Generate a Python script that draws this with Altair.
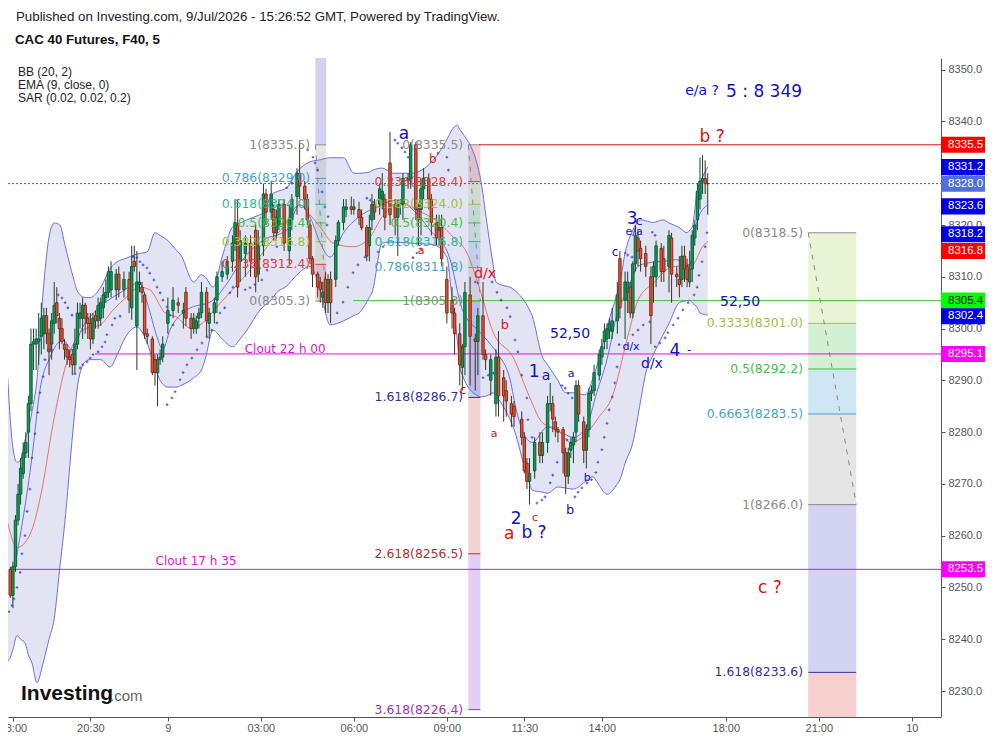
import altair as alt
import pandas as pd

PRICE_BASE = 8000
Y_DOMAIN = [8224.98, 8352.26]
X_DOMAIN = [-0.89, 360.3]

tick_pos = [1, 31, 61, 97, 133, 169, 199, 229, 277, 313, 349]
tick_text = ["18:00", "20:30", "9", "03:00", "06:00", "09:00", "11:30", "14:00", "18:00", "21:00", "10"]
price_ticks = [8230, 8240, 8250, 8260, 8270, 8280, 8290, 8300, 8310, 8320, 8330, 8340, 8350]

bar_i = [0,1,2,3,4,5,6,7,8,9,10,11,12,13,14,15,16,17,18,19,
20,21,22,23,24,25,26,27,28,29,30,31,32,33,34,35,36,37,38,39,
41,42,44,46,47,48,49,50,51,52,53,55,56,57,58,59,
61,63,65,67,68,70,71,72,73,74,76,77,79,80,82,84,86,87,88,89,
91,93,95,96,98,99,101,102,103,104,106,108,109,111,112,114,115,116,117,119,
120,121,122,123,124,126,127,129,130,132,133,135,136,138,139,140,141,143,144,145,
147,149,150,151,152,154,155,157,158,159,160,162,163,165,166,167,169,171,172,174,
175,176,178,180,181,183,184,186,188,189,191,192,194,195,198,199,200,201,203,205,
206,208,209,210,211,212,214,215,216,217,218,219,220,222,223,224,225,226,228,229,
230,231,232,233,235,236,238,239,240,241,242,243,244,246,248,249,250,252,253,255,
256,258,259,260,261,262,263,264,265,266,267,268,269,270]
bar_open = [253.5,248.5,254,263,268,272,276,280,285.5,297,297,297.5,298.5,299,302.5,299,297,301,305,302,
300,297,296,294.5,295,293,297,302,302,304.5,302,301,298,302.5,301.5,302,304,306,307,307.5,
307.5,310.5,307.5,309.5,304,313,300.5,308.5,308,306.5,299,298,294,291.5,294,294.5,
301,303.5,305,303,307,302,300,300,302,303,307,301,303,305.5,310,310.5,313,316.5,320,313,
314.5,316.5,319,310.5,316,326,322.5,323,318.5,320,324,315,321,325.5,330,327.5,325,320,313.5,310.5,
309,306,309.5,305,309.5,309.5,317,320.5,323,323.5,323,323,321.5,319.5,316,321,324,324,325,325,
332,324,321.5,324,324,328.5,329,335.5,323,323,327,329,325,320.5,319,319.5,309.5,305.5,303,299,
292.5,296.5,306.5,298,297.5,302.5,295,290,285.5,294.5,290.5,288,285.5,285,282.5,279,274,270.5,272.5,278,
275.5,278,285.5,285.5,282,280.5,280.5,276,271.5,276.5,277.5,280,289,282,276.5,280.5,287.5,288,291,294.5,
297.5,298,299.5,299.5,301.5,313.5,305.5,307,308,303,312.5,317.5,315.5,314.5,310,310,310,315.5,313.5,312,
317.5,310.5,309.5,309.5,314,312,309,311.5,317.5,321,325,328.5,329,328]
bar_close = [248.5,254,263,268,273,276,278,285.5,297,297.5,298,298,302,302.5,299,295.5,301.5,304.5,302.5,300,
297.5,296,294.5,294,293,297,303,303,304.5,302,301,298,302,301.5,304.5,305,306.5,307,311,311,
310.5,307.5,309.5,305.5,312,312,309,309,307,299,298.5,291.5,291.5,294,294.5,297,
303.5,305.5,304.5,303.5,302,300,302,301.5,303,307,301.5,303,305,310,311,313,316.5,320.5,308,317,
316.5,313,310,316,326,322.5,326,318.5,321.5,324,316.5,321,325,330,327.5,325,321,313.5,310.5,308,
307.5,307,305,309.5,305,317,320.5,323.5,323.5,323,323.5,321.5,319.5,314,319.5,324,322.5,327,326.5,321.5,
322,321.5,324,324,329,329,335.5,323,321,327,329,325,320.5,317.5,319.5,313.5,303,303,299,293,
296.5,307,298.5,297.5,302.5,295,294,294,294.5,287,287,286,283.5,283,279,272.5,270.5,272,278,275.5,
278,285.5,285.5,282.5,280.5,280,276,271.5,276,278,279,289,283.5,276.5,280.5,287.5,288,291.5,295,296.5,
299.5,300,301,301.5,306.5,304,309,309,303,312.5,318,315,313.5,312,302.5,312,316,311,311,318,
310.5,310,308.5,314,311.5,309.5,311.5,318,320,326.5,328.5,329,328,328]
bar_high = [254,255,264,270,275,278,280,287,300,300,300,303,305,304,304,300,303,309,308,303,
302,298,297,296,296,300,305,305,306,305,303,303,303,303.5,306,306,308,309.5,312,313,
311.5,312,311,311,316,316,315,311,309,307,300,298.5,295,295,296,298.5,
306,308,306,305,308,303,303,302.5,304,309,308,304,306,311,313,314,318,325,325,319,
318,318,320,319,328,327,328.5,324,323,325,325,324,326,331,336,328.5,326,321,314,311,
310,309,311,310.5,311,318,321,325,325,325.5,325,324.5,323,320,322,326,325,328,330,326,
338,325,325,325,330,330,336,336,324,329,331,330,326,322,322,322,312,308,304,301,
297,309,310,299,304,309,296,295,296,299.5,292,290,287,286,284,280,275,275,279,280,
280,287,289.5,287,283,281,281,277,277,279,280,290,290,283,281.5,288.5,289,293,296,298,
301,301,302,304,309,315,311,311,309,313,320,319,317,316,312,313,317,316.5,316,319,
318.5,312,314,316,316,313.5,315,319,321,328,333,333.5,332.5,330]
bar_low = [248,246,253,262,266,271,275,275,284,292,292,293,295,296,297,291,294,299,301,296,
297,294,293,292.5,291,291.5,296,300,298,299,298,296,297,300,300,300.5,302,305,306,306,
305.5,306,306,303,301.7,311,292,307,305,298,297,291,289,285,293,293.5,
299,302,303,300,300.5,298,299,299,300,302,298.5,298,301,303,309,309.5,311,315,306,309,
310,310,307,309,314,320,321,317,317,319,315,312.5,319,322,325,323,320,312.5,308,306,
305,304,303,303,301,308,316,319,321.5,322,322,320,319,313,313,319,321,322,323,319,
320,318,314,322,321,327,327,321,316,318,325,323,318,316,316,312,301,300,295,289,
288,291,289,288,291,294,292,287,283,283,282,283,281,281,277.5,272,269,266,271,274,
274,276,284,280,279,278,272,268,270,275,274,278,282,274,273,279,286,287,290,293,
296,296,298,298,299,302,298,303,302,302,311,312,311,310,297,305,308,309,309,307,
305,308,306,308,309,308,308,309,316,319,323,326,326,322]

band_i = [-1,0,1,2.6,4,5.7,7,8.4,10.3,12.7,15,17,19.2,21,24.3,26.2,29,31,35,38.6,41.7,44.4,49,53,56,58,61,64.5,66,71,
74,75.4,78.5,82,86,89,91.6,96.7,98,101,103,107,111,116,120,123.8,129,133,135,139,140,144,148,155,163.7,169,171,173,174,175,
181,182,184.5,187,188,195,201,202,206,208,212,215,218,222.5,225.6,227,231,235,236,238,241,244,246,249,252.7,255,259,262,263,264,266,267,268,270]
band_upper = [290.5,282.4,277,274.2,274.6,278.5,280.5,284,290,307,317.7,320.4,320,316.5,310,307,306,306,308,311.5,313,313.5,314.4,314.8,318.5,318,317,315,314.2,309,
310.4,310,308,313.8,319.6,320.4,321,322,322.3,325.8,326.4,327.2,330.3,332.2,332.6,333,333,330,330,330.2,330.5,331,330,330,332.5,336.5,338.4,339.3,338.5,337.8,
331.2,329,320.4,312,309,307.5,303.6,302.5,294.5,293,290,287.6,287.6,287.2,290.5,292.6,300.3,306.9,308.8,314.6,319,321,320.8,320.5,321,320.4,319.5,318.5,319,319.6,326.8,328,329.3,331.2]
band_lower = [235.7,236.5,238,240.7,240,239.3,237,235.4,231.6,235.4,240,244,254,262,280.5,289.5,293.6,294,294,292.6,295.3,298.2,300.3,297.2,292.5,290,288.7,288.7,289,290.5,
292,294,299.7,298,296.5,298,299.7,303.6,304.3,305.5,306.9,308.2,310.4,312,307.5,300.7,301.5,302.5,303,306,306.9,316.5,316.7,316.5,316.2,313.8,306,298,292.6,291,
287,286.8,287,287.6,287,280.5,270,268.8,268.4,268.2,269.4,269.2,269,270.4,271.4,270.5,268,270,270.8,274,278,286,291.4,295,298.8,301,305,305.4,305.5,305,304,303,302.8,302.6]

basis_i = [2,8.4,11.5,15.4,20.4,23.9,28,34.7,42.5,50,53,56.8,59,61.8,68.4,78.5,84,89,98,107,112,116,120,123.8,129,135,142,149.7,156,162.5,170,175,181,184.5,188.4,193.5,196,202,208,213,218,223,227,231,235,239,243,247,253,258,263,266,270]
basis_p = [254.7,275.2,288.2,294.5,297.8,295.9,300.3,304.2,306.9,308.8,305,298.4,295.9,299.7,303.6,305.5,308.8,312.7,317.1,319,323.9,321.6,316.5,313.8,318.5,321.6,323.5,324.8,322.9,319,313.8,303.6,299.7,297.8,295.3,290.1,284,278,281,280,279,281,287.6,294,303,307.5,312,312.7,313,313.3,312.3,321,323.9]

ema_i = [-1,2.6,7.6,12,16.5,21,25.8,29.7,34.7,39.8,45,50,54,60,64.5,69.6,73.4,80,86,92.8,99.4,105.6,112,116,120,125,132.7,139,144,150.9,157.5,166,171.4,176.8,181.8,186.9,194.6,201,206,211.7,217,221.7,228,233,239,243,249,256,264,268,270]
ema_p = [262.5,257.7,260.2,268.3,281.4,292,298.4,300.1,300.7,303.6,306.1,308,307.5,303,302.2,300.1,300.7,304.2,307.5,311.3,315.8,319.6,323.9,322,319.6,316.5,315.8,317.5,321.6,324.3,322.9,320.4,317.7,314.6,307.5,299.3,294.5,286.8,281.8,280.5,278,279.1,283,286.8,298.4,305.5,308.8,311.9,312.3,315.8,316.8]

sar_i = [-0.5,0.7,1.4,2.6,3.8,4.5,5.7,6.5,7.6,8.4,9.6,10.7,11.5,12.7,13.4,14.6,16.1,18.5,20,21.2,22.3,23.9,25,27,28.1,29.7,30.9,32,34,35.5,36.7,37.4,39.4,40.5,42.5,
47.5,49,50.2,51.4,52.9,54,55.6,56.8,58,59.1,60.7,61.8,63,60.7,62.6,63.8,65.7,66.9,68.4,70.3,72.3,74.2,76.1,78,80,81.2,83,85,86.2,
90.9,92.8,94.7,97.4,99.4,101.3,103.2,107,109,111.4,115.2,117.2,118,119,120.7,121.8,123,122.6,126.5,128.8,130.7,132.7,134.6,137.3,142.4,144.3,138,139.3,140.4,
148.9,150,151.6,152.8,154,155.9,157.4,159,165.6,169,169.6,180,181,186.5,188.4,190,192.3,193.5,195.4,196.5,198,200,200.4,202,183,185,187,
203.9,205.8,207,209,210,211.7,215.5,213.6,214.8,216,217.5,218.6,219.8,221.3,223.3,225,226.7,227.5,229,229.9,231,231.8,233,234,234.9,235.7,
241,243,245,247.6,238,239,240.7,248.5,249.6,249.6,251.5,253.5,254.6,256.6,258.5,260.4,262.4,264.7,265.9,266.6,267.8,269,269.7]
sar_p = [245.3,246.5,247.8,250,252.9,256.5,260,264.7,269,275,279.7,283.8,287.6,290.7,294,295.9,295.9,306.5,305.9,305,304,302.6,291.3,292.4,293,293.6,294.3,295,295.5,296.5,297.4,298.8,300.7,302,302.4,
313.9,313.7,312.9,312.3,311.7,310.7,309.4,308,306.9,305.5,304.2,302.6,300.7,285.3,286.6,287.8,290.1,291.5,293,294.3,295.9,297.2,298.4,299.7,301.1,303,304,306.9,308,
307.5,307.9,308.5,309.4,311.3,313.3,315.8,327.2,328.1,329,334.5,333.1,332,330.6,326.4,323.5,321.6,320,303,305.1,308,310.8,312.3,313.8,314.8,315.8,325.2,324.8,324.4,
336.4,335.8,334.9,334.1,333.1,313.7,314.6,315.4,333.9,333.1,330.6,309,308.8,309,307,305.5,304,302.3,297.8,295.5,291,286.6,282.4,279,290.5,291,291.4,
266.3,266.9,267.5,270.2,271.7,274.2,278.5,289,288.5,287.5,286.6,267.5,268.4,269.2,270.2,270.8,272.2,274.2,276.6,279,281.7,284.3,286.8,289.5,292.6,296.9,
298.8,299.7,300.7,301.3,314.6,314.2,313.8,318.6,318,296.5,297.2,298.2,299.2,300.7,302,303.6,305,306.5,308,310.3,312.9,315.8,318.5]

fib1_span = [118.1, 122.3]
fib1_levels = [8352.26, 8335.5, 8329.0, 8324.0, 8320.4, 8316.8, 8312.4, 8305.3]
fib1_fills = ["#d1d3f3", "#e6e6e6", "#d2e6f3", "#d5efe3", "#d6f0d6", "#eaf3d7", "#f5d2d2"]
fib1_tags = ["1(8335.5)", "0.786(8329.0)", "0.618(8324.0)", "0.5(8320.4)", "0.382(8316.8)", "0.236(8312.4)", "0(8305.3)"]
fib1_inks = ["#8a8a8a", "#4a9fd0", "#30b890", "#3fbf3f", "#a3c040", "#e04040", "#8a8a8a"]
fib1_trend = [8335.5, 8305.3]

fib2_span = [177.3, 182]
fib2_levels = [8335.5, 8328.4, 8324.0, 8320.4, 8316.8, 8311.8, 8305.3, 8286.7, 8256.5, 8226.4]
fib2_fills = ["#f5d2d2", "#eaf3d7", "#d6f0d6", "#d5efe3", "#d2e6f3", "#e6e6e6", "#c9ccef", "#f5d2d2", "#e3cff5"]
fib2_tags = ["0(8335.5)", "0.236(8328.4)", "0.382(8324.0)", "0.5(8320.4)", "0.618(8316.8)", "0.786(8311.8)", "1(8305.3)", "1.618(8286.7)", "2.618(8256.5)", "3.618(8226.4)"]
fib2_inks = ["#8a8a8a", "#e04040", "#a3c040", "#3fbf3f", "#30b890", "#4a9fd0", "#8a8a8a", "#3030a0", "#b03030", "#a030c0"]
fib2_trend = [8335.5, 8305.3]

fib3_span = [308.9, 327.5]
fib3_levels = [8318.5, 8301.0, 8292.2, 8283.5, 8266.0, 8233.6, 8224.98]
fib3_fills = ["#e9f4d6", "#d4f0d4", "#cfe6f4", "#e5e5e5", "#d3d3f3", "#f6cfcf"]
fib3_tags = ["0(8318.5)", "0.3333(8301.0)", "0.5(8292.2)", "0.6663(8283.5)", "1(8266.0)", "1.618(8233.6)"]
fib3_inks = ["#8a8a8a", "#a3c040", "#3fbf3f", "#4a9fd0", "#8a8a8a", "#3030a0"]
fib3_trend = [8318.5, 8266.0]

hline_price = [8335.5, 8328.0, 8305.4, 8295.1, 8253.5]
hline_from = [181.5, -0.89, 132.7, 32.8, 0]
hline_color = ["#e01010", "#3a5bb0", "#33cc33", "#e010d0", "#e010d0"]
hline_dash = [0, 1, 0, 0, 0]

tag_price = ["8335.5", "8331.2", "8328.0", "8323.6", "8318.2", "8316.8", "8305.4", "8302.4", "8295.1", "8253.5"]
tag_level = [8335.5, 8331.2, 8328.0, 8323.6, 8318.2, 8315.0, 8305.4, 8302.4, 8295.1, 8253.5]
tag_fill = ["#ff0000", "#0000e6", "#4f6fdf", "#0000e6", "#0000e6", "#ff0000", "#00ff00", "#0000e6", "#ff00ff", "#ff00ff"]
tag_ink = ["white", "white", "white", "white", "white", "white", "black", "white", "white", "white"]

ann_text = ["e/a ?", "5 : 8 349", "b ?", "a", "b", "a", "d/x", "b", "c", "a", "1", "a", "a", "52,50", "52,50", "c", "3", "c", "e/a", "d/x", "d/x", "4", "-", "b", "b", "c", "2", "a", "b", "?", "c ?", "Clout 22 h 00", "Clout 17 h 35"]
ann_i = [267.8, 291.8, 271.7, 152.4, 163.6, 159, 183.8, 191.5, 175.3, 187.3, 202.8, 207.4, 217.1, 216.7, 282.5, 234.1, 240.7, 243.4, 241.5, 240.3, 248.4, 257.3, 262.8, 223.3, 216.7, 203.1, 195.8, 193.1, 200, 205.8, 294.1, 106.4, 71.9]
ann_p = [8345.9, 8345.7, 8337.0, 8337.6, 8332.8, 8315.0, 8310.6, 8300.7, 8288.2, 8279.7, 8291.6, 8290.9, 8291.3, 8299.0, 8305.2, 8314.8, 8321.2, 8320.8, 8318.7, 8296.5, 8293.2, 8295.7, 8295.9, 8271.2, 8265.0, 8263.5, 8263.3, 8260.4, 8260.6, 8260.6, 8249.8, 8296.1, 8255.2]
ann_size = [14, 17, 17, 17, 12, 11, 14, 13, 12, 11, 17, 14, 11, 14, 14, 12, 17, 13, 11, 11, 14, 17, 12, 11, 13, 11, 17, 17, 17, 17, 17, 12, 12]
BLUE = "#1010c8"
RED = "#e01010"
MAG = "#e010d0"
ann_color = [BLUE, BLUE, RED, BLUE, RED, RED, RED, RED, RED, RED, BLUE, BLUE, BLUE, BLUE, BLUE, BLUE, BLUE, BLUE, BLUE, BLUE, BLUE, BLUE, BLUE, BLUE, BLUE, RED, BLUE, RED, BLUE, BLUE, RED, MAG, MAG]

legend_lines = ["BB (20, 2)", "EMA (9, close, 0)", "SAR (0.02, 0.02, 0.2)"]

label_map = ",".join(f"'{p}':'{t}'" for p, t in zip(tick_pos, tick_text))
x_axis = alt.Axis(values=tick_pos, labelExpr="{" + label_map + "}[toString(datum.value)]", orient="bottom", grid=False,
                  labelFont="Liberation Sans", labelFontSize=11, labelColor="#555555", labelPadding=1, labelAngle=0,
                  tickColor="#555555", tickSize=4, domainColor="#555555", labelOverlap=False, labelFlush=False, labelBound=False)
y_axis = alt.Axis(values=price_ticks, format=".1f", orient="right", grid=False,
                  labelFont="Liberation Sans", labelFontSize=11, labelColor="#555555", labelPadding=3,
                  tickColor="#555555", tickSize=4, domainColor="#555555", labelOverlap=False, labelFlush=False, labelBound=False)


def X(f, **kw):
    return alt.X(f"{f}:Q", scale=alt.Scale(domain=X_DOMAIN, nice=False, zero=False, padding=0), axis=x_axis, title=None, **kw)


def Y(f, **kw):
    return alt.Y(f"{f}:Q", scale=alt.Scale(domain=Y_DOMAIN, nice=False, zero=False, padding=0), axis=y_axis, title=None, **kw)


layers = []
axis_df = pd.DataFrame({"a": [0.0], "b": [8300.0]})


def fib_rect(span, levels, fills):
    d = pd.DataFrame({"x0": span[0], "x1": span[1], "hi": levels[:-1], "lo": levels[1:], "c": fills})
    return alt.Chart(d).mark_rect(clip=True).encode(
        x=X("x0"), x2=alt.X2("x1"), y=Y("hi"), y2=alt.Y2("lo"), color=alt.Color("c:N", scale=None))


def fib_marks(span, levels, tags, inks, trend):
    d = pd.DataFrame({"x0": span[0], "x1": span[1], "p": levels, "t": tags, "c": inks, "xt": span[0] - 2.0})
    rule = alt.Chart(d).mark_rule(strokeWidth=1).encode(
        x=X("x0"), x2=alt.X2("x1"), y=Y("p"), color=alt.Color("c:N", scale=None))
    text = alt.Chart(d).mark_text(align="right", baseline="middle", font="DejaVu Sans", fontSize=12.4).encode(
        x=X("xt"), y=Y("p"), text="t:N", color=alt.Color("c:N", scale=None))
    tr = pd.DataFrame({"x": span, "p": trend})
    trend_line = alt.Chart(tr).mark_line(color="#888888", strokeWidth=1, strokeDash=[5, 6]).encode(x=X("x"), y=Y("p"))
    return [rule, trend_line], text


layers += [fib_rect(fib1_span, fib1_levels, fib1_fills),
           fib_rect(fib2_span, fib2_levels, fib2_fills),
           fib_rect(fib3_span, fib3_levels, fib3_fills)]

# Bollinger
band = pd.DataFrame({"i": band_i, "u": [PRICE_BASE + v for v in band_upper], "l": [PRICE_BASE + v for v in band_lower]})
layers.append(alt.Chart(band).mark_area(color="#7f86c9", opacity=0.22, interpolate="monotone", clip=True).encode(
    x=X("i"), y=Y("u"), y2=alt.Y2("l")))

fib_texts = []
for s, lv, tg, ik, tr in [(fib1_span, fib1_levels[1:], fib1_tags, fib1_inks, fib1_trend),
                          (fib2_span, fib2_levels, fib2_tags, fib2_inks, fib2_trend),
                          (fib3_span, fib3_levels[:-1], fib3_tags, fib3_inks, fib3_trend)]:
    r, t = fib_marks(s, lv, tg, ik, tr)
    layers += r
    fib_texts.append(t)

# horizontal levels
for p, f, c, dash in zip(hline_price, hline_from, hline_color, hline_dash):
    d = pd.DataFrame({"a": [f], "b": [X_DOMAIN[1]], "p": [p]})
    kw = {"strokeDash": [2, 2]} if dash else {}
    layers.append(alt.Chart(d).mark_rule(color=c, strokeWidth=1, **kw).encode(x=X("a"), x2=alt.X2("b"), y=Y("p")))

for name, xs, ys, col in [("u", band_i, band_upper, "#6a6fe0"), ("l", band_i, band_lower, "#6a6fe0"),
                          ("b", basis_i, basis_p, "#6a6fe0"), ("e", ema_i, ema_p, "#e47070")]:
    d = pd.DataFrame({"i": xs, "p": [PRICE_BASE + v for v in ys]})
    layers.append(alt.Chart(d).mark_line(color=col, strokeWidth=1, interpolate="monotone", clip=True).encode(x=X("i"), y=Y("p")))

# candles
bars = pd.DataFrame({"i": bar_i,
                     "o": [PRICE_BASE + v for v in bar_open],
                     "c": [PRICE_BASE + v for v in bar_close],
                     "h": [PRICE_BASE + v for v in bar_high],
                     "l": [PRICE_BASE + v for v in bar_low]})
up = bars[bars.c >= bars.o]
down = bars[bars.c < bars.o]
for d, wick, fill, edge in [(up, "#12452e", "#0f9a55", "#0d5f38"), (down, "#4f2a1a", "#ea5038", "#7a2e1a")]:
    layers.append(alt.Chart(d).mark_rule(color=wick, strokeWidth=1, clip=True).encode(x=X("i"), y=Y("h"), y2=alt.Y2("l")))
    layers.append(alt.Chart(d).mark_bar(size=2.4, color=fill, stroke=edge, strokeWidth=1, clip=True).encode(
        x=X("i"), y=Y("o"), y2=alt.Y2("c")))

# SAR
sar = pd.DataFrame({"i": sar_i, "p": [PRICE_BASE + v for v in sar_p]})
layers.append(alt.Chart(sar).mark_point(shape="cross", filled=True, color="#4040c0", size=7, opacity=0.9, clip=True).encode(
    x=X("i"), y=Y("p")))

layers += fib_texts

ann = pd.DataFrame({"t": ann_text, "i": ann_i, "p": ann_p, "s": ann_size, "c": ann_color})
layers.append(alt.Chart(ann).mark_text(baseline="middle", font="DejaVu Sans").encode(
    x=X("i"), y=Y("p"), text="t:N", size=alt.Size("s:Q", scale=None), color=alt.Color("c:N", scale=None)))

# price tags
tags = pd.DataFrame({"t": tag_price, "p": tag_level, "f": tag_fill, "k": tag_ink})
tags["hi"] = tags.p + 1.55
tags["lo"] = tags.p - 1.55
layers.append(alt.Chart(tags).mark_rect().encode(
    x=alt.value(933), x2=alt.value(977), y=Y("hi"), y2=alt.Y2("lo"), color=alt.Color("f:N", scale=None)))
layers.append(alt.Chart(tags).mark_text(align="left", baseline="middle", font="Liberation Sans", fontSize=11.5).encode(
    x=alt.value(940), y=Y("p"), text="t:N", color=alt.Color("k:N", scale=None)))

# header text and logo
head = [("Published on Investing.com, 9/Jul/2026 - 15:26:52 GMT, Powered by TradingView.", 8, -41, 13.3, "normal", "#222222"),
        ("CAC 40 Futures, F40, 5", 7, -18, 13.3, "bold", "#111111"),
        (legend_lines[0], 10, 14, 12, "normal", "#222222"),
        (legend_lines[1], 10, 27, 12, "normal", "#222222"),
        (legend_lines[2], 10, 40, 12, "normal", "#222222"),
        ("Investing", 13, 636, 21, "bold", "#111111"),
        (".com", 102, 638, 15, "normal", "#666666")]
for t, px, py, fs, w, c in head:
    layers.append(alt.Chart(axis_df).mark_text(text=t, align="left", baseline="middle", font="Liberation Sans",
                                               fontSize=fs, fontWeight=w, color=c).encode(
        x=alt.value(px), y=alt.value(py)))

chart = alt.layer(*layers).properties(
    width=933, height=659,
    autosize=alt.AutoSizeParams(type="none"),
    padding={"left": 0, "top": 50, "right": 44, "bottom": 16},
).configure_view(stroke=None).resolve_scale(color="independent")

chart.save("out.html", embed_options={"renderer": "svg", "actions": False})
